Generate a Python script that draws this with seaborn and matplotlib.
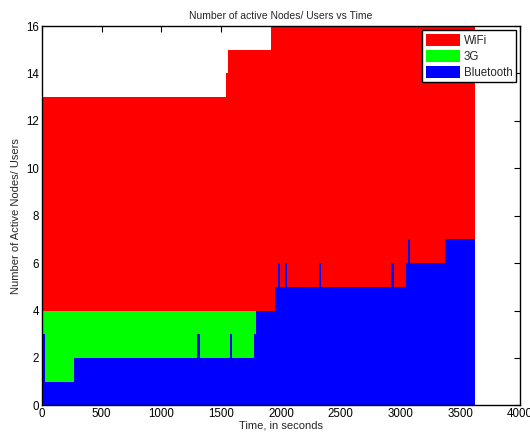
import numpy as np
import pandas as pd
import matplotlib
matplotlib.use("Agg")
import matplotlib.pyplot as plt
import seaborn as sns
from matplotlib.patches import Patch

# ---- data (step change points) ----
end_time = 3620
bt_times = [0, 25, 265, 1300, 1323, 1572, 1590, 1774, 1791, 1950, 1975, 1992,
            2033, 2053, 2318, 2335, 2923, 2943, 3046, 3063, 3080, 3372]
bt_values = [3, 1, 2, 3, 2, 3, 2, 3, 4, 5, 6, 5, 6, 5, 6, 5, 6, 5, 6, 7, 6, 7]

g3_times = [0, 25, 265, 1300, 1323, 1572, 1590, 1774, 1791]
g3_values = [1, 3, 2, 1, 2, 1, 2, 1, 0]

wifi_times = [0, 1538, 1561, 1917, 1950, 1975, 1992, 2033, 2053, 2318, 2335,
              2923, 2943, 3046, 3063, 3080, 3372]
wifi_values = [9, 10, 11, 12, 11, 10, 11, 10, 11, 10, 11, 10, 11, 10, 9, 10, 9]

series_names = ["WiFi", "3G", "Bluetooth"]
series_colors = ["#FF0000", "#00FF00", "#0000FF"]
x_ticks = [0, 500, 1000, 1500, 2000, 2500, 3000, 3500, 4000]
y_ticks = [0, 2, 4, 6, 8, 10, 12, 14, 16]

# ---- build long table on common bins ----
edges = sorted(set(bt_times) | set(g3_times) | set(wifi_times) | {end_time})
edges_arr = np.array(edges, dtype=float)
starts = edges_arr[:-1]
centers = (edges_arr[:-1] + edges_arr[1:]) / 2

def lookup(times, values, t):
    idx = np.searchsorted(np.array(times), t, side="right") - 1
    return np.array(values)[idx]

rows = []
for name, (tt, vv) in zip(series_names, [(wifi_times, wifi_values), (g3_times, g3_values), (bt_times, bt_values)]):
    vals = lookup(tt, vv, starts)
    for c, v in zip(centers, vals):
        rows.append({"time": float(c), "count": float(v), "tech": name})
df = pd.DataFrame(rows)

sns.set_style("white")
plt.rcParams["font.family"] = ["Liberation Sans", "DejaVu Sans"]

fig = plt.figure(figsize=(5.30, 4.34), dpi=100)
ax = fig.add_axes([0.079, 0.066, 0.902, 0.874])

sns.histplot(data=df, x="time", weights="count", hue="tech", hue_order=series_names,
             bins=[float(e) for e in edges], multiple="stack", element="step", fill=True,
             palette=series_colors, alpha=1, linewidth=0, legend=False, ax=ax)

ax.set_xlim(0, 4000)
ax.set_ylim(0, 16)
ax.set_xticks(x_ticks)
ax.set_yticks(y_ticks)
ax.tick_params(direction="in", top=True, right=True, length=4, width=0.8,
               labelsize=8.3, pad=2, colors="black")
for s in ax.spines.values():
    s.set_visible(True)
    s.set_color("black")
    s.set_linewidth(1.0)
ax.set_title("Number of active Nodes/ Users vs Time", fontsize=7.5, pad=5)
ax.set_xlabel("Time, in seconds", fontsize=8, labelpad=0)
ax.set_ylabel("Number of Active Nodes/ Users", fontsize=8, labelpad=4)

handles = [Patch(facecolor=c, edgecolor="none", label=n) for n, c in zip(series_names, series_colors)]
leg = ax.legend(handles=handles, loc="upper right", fontsize=8.3, frameon=True,
                fancybox=False, framealpha=1, edgecolor="black",
                borderaxespad=0.35, handlelength=3.0, handleheight=1.3,
                handletextpad=0.3, labelspacing=0.25, borderpad=0.3)
leg.get_frame().set_linewidth(1.0)

fig.savefig("out.png", dpi=100)
